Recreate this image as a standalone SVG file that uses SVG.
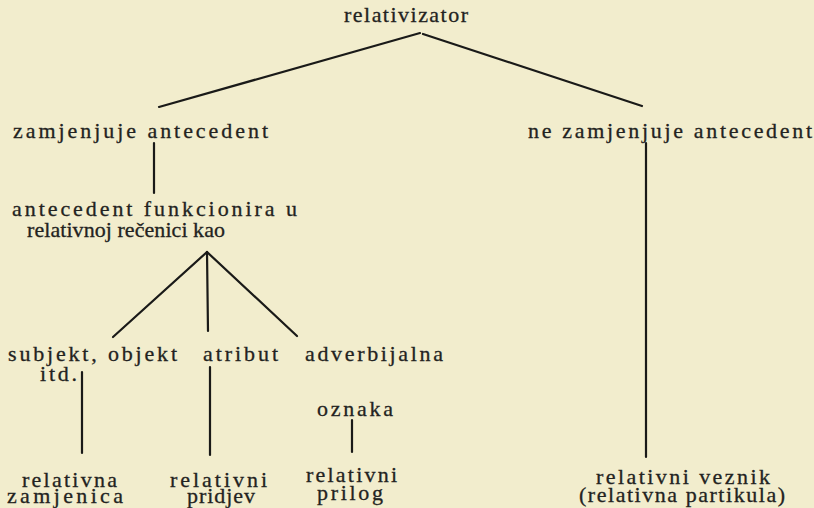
<svg xmlns="http://www.w3.org/2000/svg" width="814" height="508" viewBox="0 0 814 508">
<style>
.bg{fill:#f2edcd}
.t{font-size:22px;fill:#232321;stroke:#232321;stroke-width:0.3}
.c{stroke:#1a1a18;stroke-width:2.2;fill:none;stroke-linecap:round}
</style>
<rect class="bg" x="0" y="0" width="814" height="508"/>
<g id="connectors">
<line class="c" x1="420" y1="33" x2="159" y2="107"/>
<line class="c" x1="423" y1="34" x2="642" y2="106"/>
<line class="c" x1="154" y1="143" x2="154" y2="193"/>
<line class="c" x1="207" y1="252" x2="113" y2="337"/>
<line class="c" x1="207" y1="252" x2="208" y2="331"/>
<line class="c" x1="207" y1="252" x2="297" y2="336"/>
<line class="c" x1="82" y1="372" x2="82" y2="453"/>
<line class="c" x1="210" y1="367" x2="210" y2="455"/>
<line class="c" x1="352" y1="420" x2="352" y2="452"/>
<line class="c" x1="646" y1="143" x2="646" y2="457"/>
</g>
<g font-family="'Liberation Serif', 'Times New Roman', 'DejaVu Serif', serif">
<g id="relativizator"><text class="t" x="344" y="22" textLength="124" lengthAdjust="spacing">relativizator</text></g>
<g id="zamjenjuje"><text class="t" x="13" y="138" textLength="255" lengthAdjust="spacing">zamjenjuje antecedent</text></g>
<g id="ne-zamjenjuje"><text class="t" x="528" y="138" textLength="284" lengthAdjust="spacing">ne zamjenjuje antecedent</text></g>
<g id="funkcionira">
<text class="t" x="12" y="216" textLength="285" lengthAdjust="spacing">antecedent funkcionira u</text>
<text class="t" x="27" y="237" textLength="198" lengthAdjust="spacing">relativnoj rečenici kao</text>
</g>
<g id="subjekt">
<text class="t" x="8" y="361" textLength="169" lengthAdjust="spacing">subjekt, objekt</text>
<text class="t" x="40" y="381" textLength="37" lengthAdjust="spacing">itd.</text>
</g>
<g id="atribut"><text class="t" x="203" y="361" textLength="75" lengthAdjust="spacing">atribut</text></g>
<g id="adverbijalna">
<text class="t" x="305" y="361" textLength="138" lengthAdjust="spacing">adverbijalna</text>
<text class="t" x="317" y="416" textLength="76" lengthAdjust="spacing">oznaka</text>
</g>
<g id="zamjenica">
<text class="t" x="22" y="487" textLength="95" lengthAdjust="spacing">relativna</text>
<text class="t" x="7" y="503" textLength="116" lengthAdjust="spacing">zamjenica</text>
</g>
<g id="pridjev">
<text class="t" x="170" y="487" textLength="97" lengthAdjust="spacing">relativni</text>
<text class="t" x="187" y="503" textLength="68" lengthAdjust="spacing">pridjev</text>
</g>
<g id="prilog">
<text class="t" x="306" y="482" textLength="91" lengthAdjust="spacing">relativni</text>
<text class="t" x="317" y="500" textLength="66" lengthAdjust="spacing">prilog</text>
</g>
<g id="veznik">
<text class="t" x="596" y="484" textLength="174" lengthAdjust="spacing">relativni veznik</text>
<text class="t" x="579" y="502" textLength="206" lengthAdjust="spacing">(relativna partikula)</text>
</g>
</g>
</svg>
